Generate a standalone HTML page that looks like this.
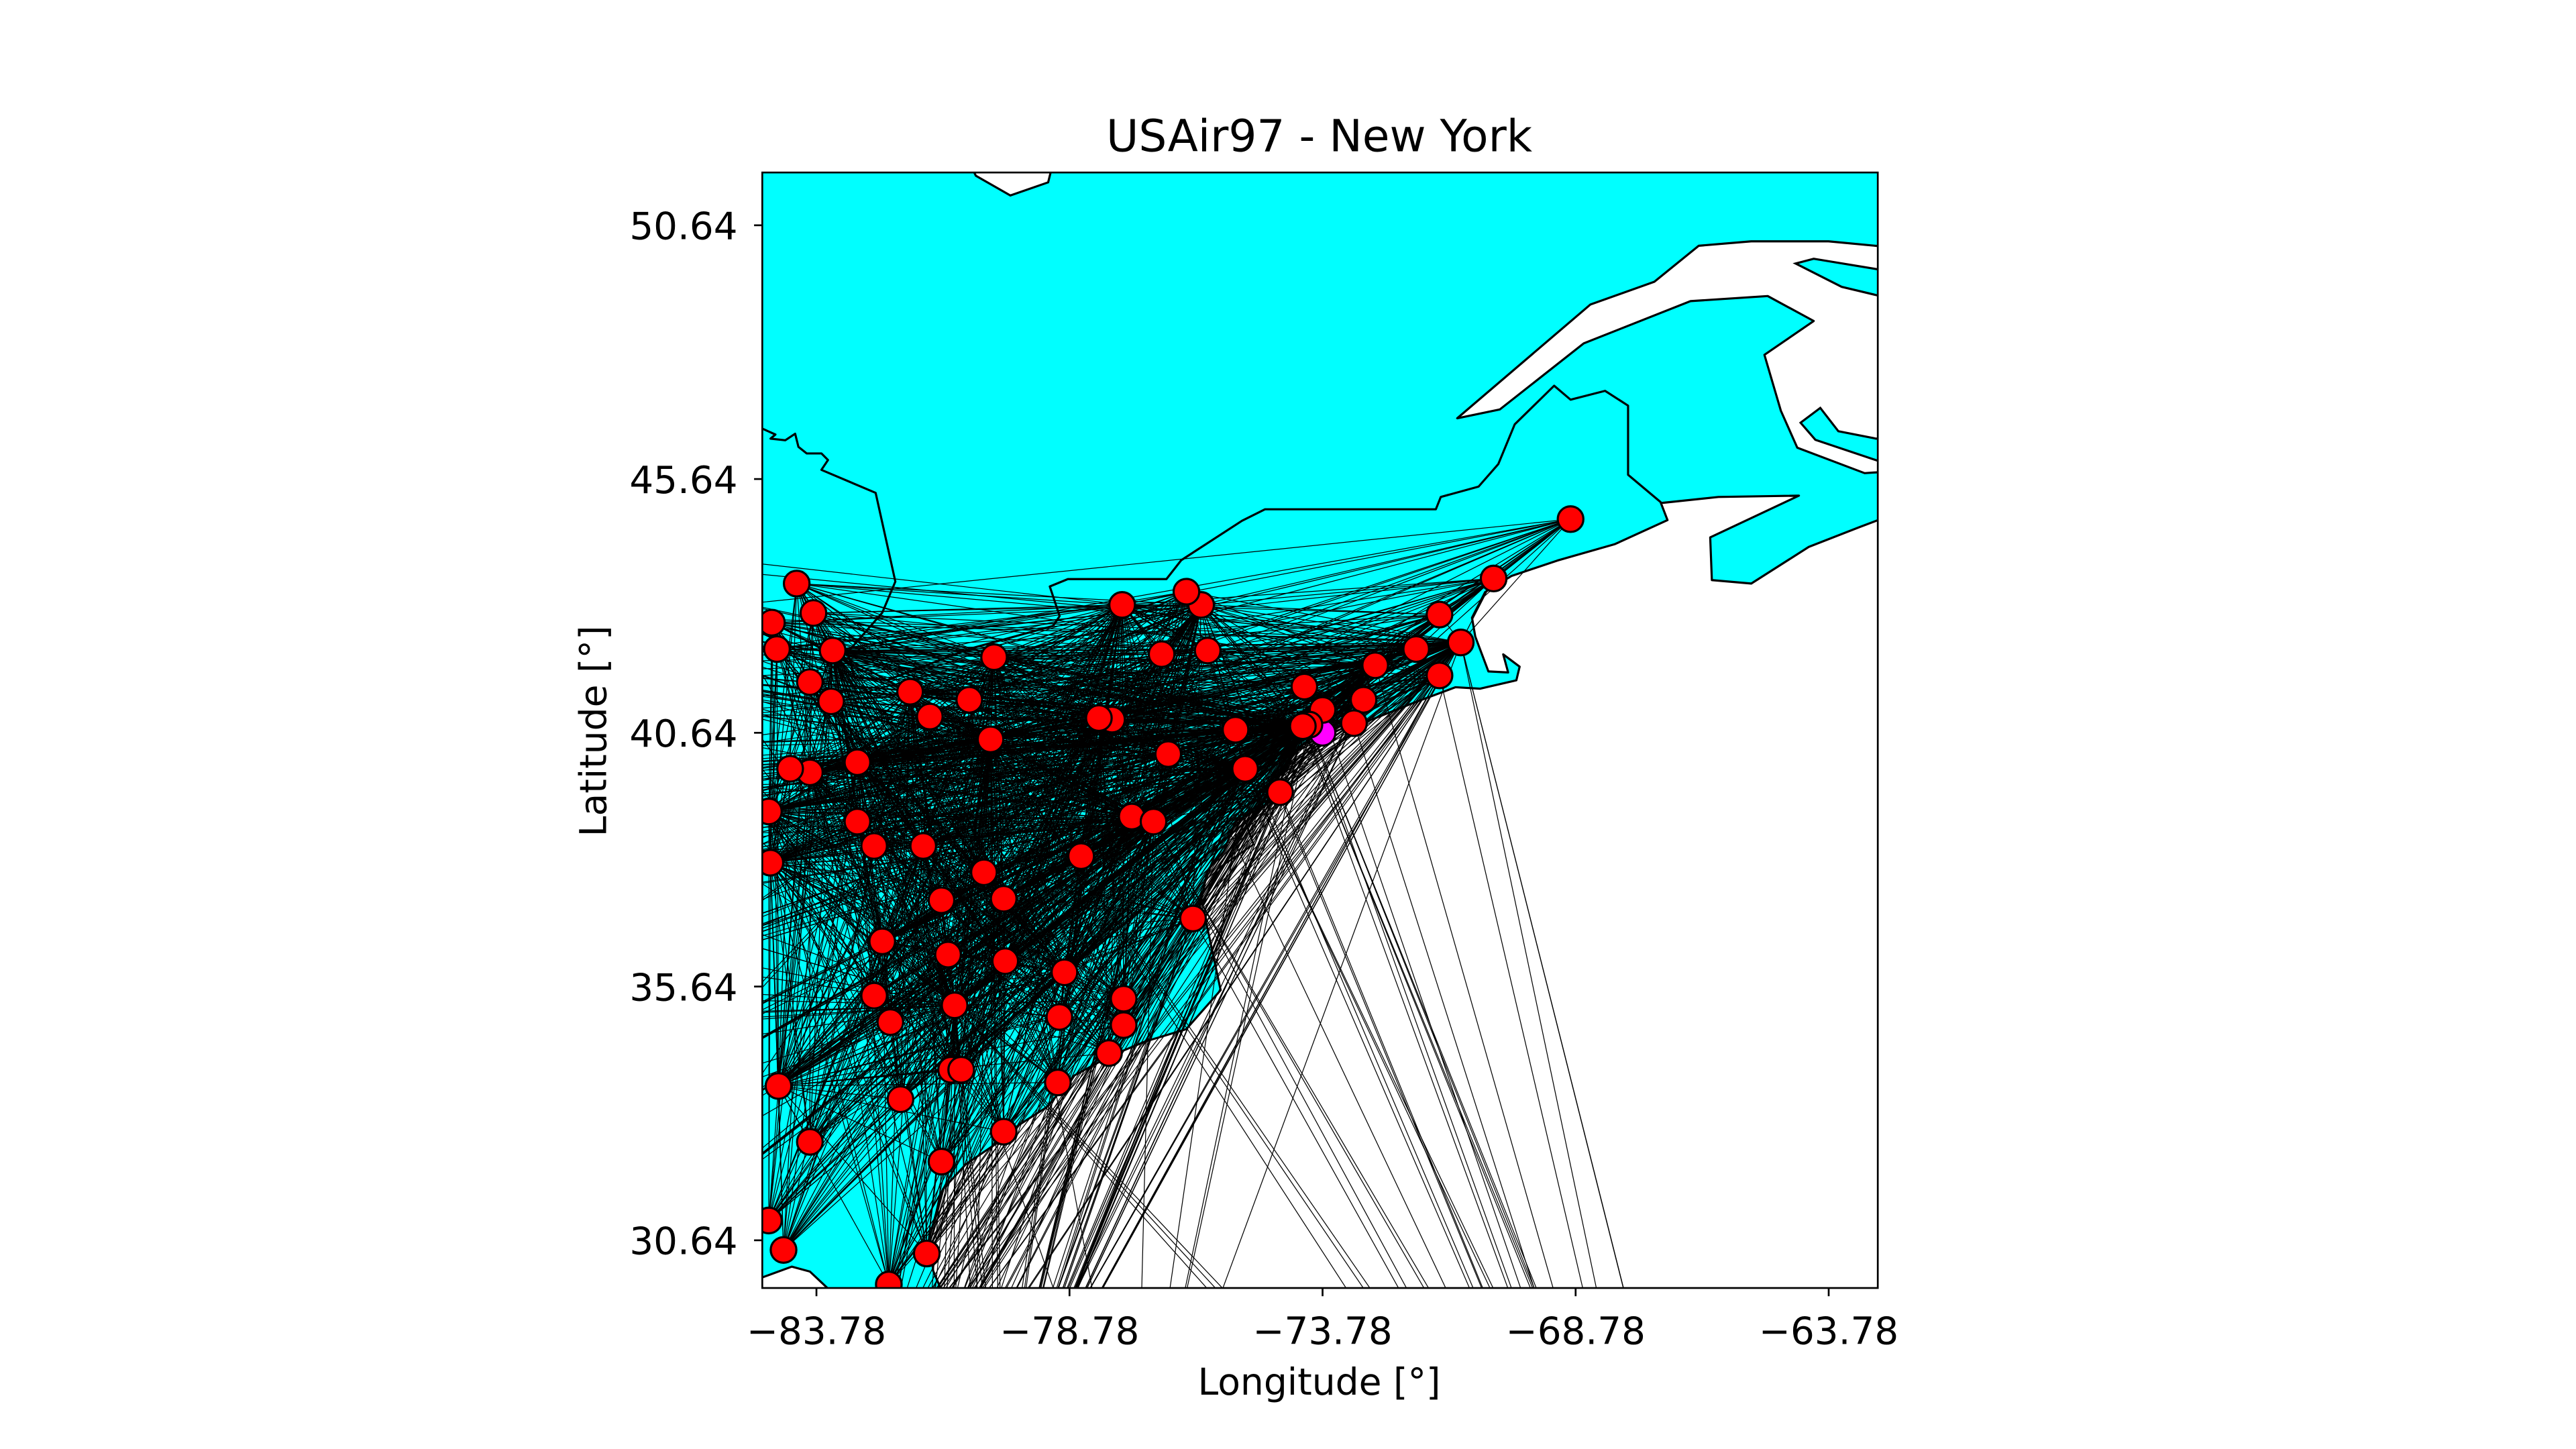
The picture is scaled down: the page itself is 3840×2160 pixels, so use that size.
<!DOCTYPE html>
<html><head><meta charset="utf-8"><title>USAir97 - New York</title>
<style>html,body{margin:0;padding:0;background:#fff;width:3840px;height:2160px;overflow:hidden}svg{display:block}text{font-family:"DejaVu Sans","Liberation Sans",sans-serif;fill:#000}</style>
</head><body>
<svg id="chart" width="3840" height="2160" viewBox="0 0 1568 882" xmlns="http://www.w3.org/2000/svg">
<defs><clipPath id="plotclip"><rect x="464" y="105" width="679" height="679"/></clipPath></defs>
<text x="803" y="92" font-size="27" text-anchor="middle">USAir97 - New York</text>
<g clip-path="url(#plotclip)">
<rect x="464" y="105" width="679" height="679" fill="#00ffff"/>
<polygon points="592,103 640,103 638,111 615,119 594,107" fill="#fff" stroke="#000" stroke-width="1.3"/>
<polygon points="1150,150.4 1113,146.9 1066,146.9 1034,149.6 1007,171.5 968,185.4 887,254.6 913,249.2 964,209 1029,183.3 1076,180.2 1104,195.4 1074,216 1084,250 1094,272.5 1135,288 1150,287" fill="#fff" stroke="#000" stroke-width="1.3" stroke-linejoin="round"/>
<polygon points="1093,160.4 1104,157.5 1147,164.6 1147,180.8 1121,174.6" fill="#00ffff" stroke="#000" stroke-width="1.3"/>
<polygon points="1096,257.3 1108,248.3 1119,262.5 1142,267 1150,266.6 1150,280.2 1144,280.8 1105,267.7" fill="#00ffff" stroke="#000" stroke-width="1.3"/>
<polygon points="1150,314 1132,320.8 1101,332.9 1066,355.2 1042,353.1 1041,327.1 1095,301.7 1046,302.5 1011,306.2 1015,316.6 983,331.2 948,341.2 920,350.6 904,360.4 896,376 898,387.5 906,408.7 918,409.3 915,398.3 925,405.8 923,414.1 901,419.2 886,418.3 860,428 835,438 812,443 800,447 790,456 780,470 770,490 752,500 745,518 735,530 730,553 734,560.5 743,602.7 722,626.5 697,634 676,642.7 654,654.6 637,674 620,684.9 607,695.7 588,708.6 574,723.8 566,752 568,773.5 575,790 1150,790" fill="#fff" stroke="#000" stroke-width="1.3" stroke-linejoin="round"/>
<polygon points="460,779 482,771 493,774 510,790 460,790" fill="#fff" stroke="#000" stroke-width="1.3"/>
<polyline points="462,260 472,264.5 469,267 478,268 484,264 486,272 491,276 500,276 504,280 500,286 533,300 545,354 537,373 516,397 520,412 540,414 590,395 641,381 645,375 639,357 650,352.5 710,352.5 719,341 756,317 770,310 874,310 877,302.5 900,296.2 912,282.5 922,258.3 946,234.8 956,243.3 977,237.9 991,246.9 991,289 1011,305.8" fill="none" stroke="#000" stroke-width="1.3" stroke-linejoin="round"/>
<polyline points="753,486 763,514 741,529 732,551" fill="none" stroke="#000" stroke-width="1.1"/>
<g id="edges"></g>
<g id="nodes"></g>
</g>
<rect x="464" y="105" width="679" height="679" fill="none" stroke="#000" stroke-width="1.1"/>
<g id="xticks"></g>
<g id="yticks"></g>
<text x="803" y="849" font-size="22.5" text-anchor="middle">Longitude [°]</text>
<text x="369" y="445" font-size="22.5" text-anchor="middle" transform="rotate(-90 369 445)">Latitude [°]</text>
</svg>
<script>
const xTicks = [-83.78, -78.78, -73.78, -68.78, -63.78];
const yTicks = [30.64, 35.64, 40.64, 45.64, 50.64];
const center = [-73.78, 40.64];
const airportNames = ["BGR","PWM","MHT","BOS","ORH","PVD","BDL","BDR","ISP","HPN","SWF","LGA","EWR","ABE","PHL","ACY","MDT","IPT","UNV","BGM","ITH","SYR","ART","ROC","ERI","PIT","YNG","CAK","CLE","TOL","FNT","DTW","MBS","TVC","LAN","JXN","CMH","DAY","DYX","CVG","HTS","PKB","CRW","LWB","ROA","BLF","LEX","TRI","HKY","GSO","AVL","GSP","CLT","AGS","CAE","CAX","ATL","MCN","SAV","CHS","MYR","FLO","RDU","ILM","EWN","PGV","CHO","IAD","DCA","ORF","ABY","TLH","JAX","GNV"];
const airportLon = [-68.88,-70.40,-71.47,-71.05,-71.93,-71.47,-72.74,-72.97,-73.16,-73.78,-74.14,-74.04,-74.17,-75.50,-75.31,-74.62,-76.83,-77.94,-78.20,-76.05,-76.96,-76.18,-76.47,-77.74,-80.27,-80.34,-80.76,-81.54,-81.93,-83.49,-83.91,-83.46,-83.84,-84.17,-84.66,-84.56,-82.97,-83.91,-84.30,-84.72,-82.97,-82.64,-81.67,-80.47,-80.08,-81.31,-84.69,-82.48,-81.18,-80.05,-82.64,-82.32,-81.05,-82.12,-81.12,-80.92,-84.53,-83.91,-81.31,-80.08,-79.01,-78.98,-78.88,-78.00,-77.71,-77.71,-78.55,-77.55,-77.12,-76.34,-84.72,-84.43,-81.60,-82.35];
const airportLat = [44.85,43.68,42.97,42.42,42.29,41.77,41.97,41.29,40.83,41.09,41.55,40.80,40.77,40.70,39.93,39.47,40.22,40.90,40.93,42.26,42.19,43.16,43.42,43.16,42.13,40.51,41.29,40.96,41.45,41.26,41.64,42.26,43.00,43.58,42.81,42.29,40.06,39.86,39.93,39.09,38.89,38.41,38.41,37.89,37.37,37.34,38.08,36.53,36.27,36.14,35.46,34.94,35.27,33.42,34.00,34.00,33.68,32.58,32.19,32.78,33.75,35.04,35.92,34.33,34.88,35.40,38.21,38.99,38.89,36.98,31.03,30.45,30.38,29.77];
const farNames = ["ORD","MDW","IND","SDF","STL","BNA","BHM","MEM","MSY","IAH","DFW","DEN","LAX","SFO","PHX","LAS","MKE","MSP","MCI","SAN","SEA","FWA","SBN","GRR","PNS","TPA","MCO","MIA","FLL","PBI","RSW","SRQ","MLB","DAB","SJU","STT","STX","NAS"];
const farLon = [-87.9,-87.75,-86.3,-85.7,-90.4,-86.7,-86.75,-90.0,-90.26,-95.3,-97.0,-104.7,-118.4,-122.4,-112.0,-115.2,-87.9,-93.2,-94.7,-117.2,-122.3,-85.2,-86.3,-85.5,-87.2,-82.53,-81.3,-80.29,-80.15,-80.1,-81.75,-82.55,-80.65,-81.06,-66.0,-64.97,-64.8,-77.47];
const farLat = [41.98,41.79,39.7,38.2,38.7,36.1,33.56,35.0,29.99,29.98,32.9,39.86,33.9,37.6,33.4,36.1,42.9,44.9,39.3,32.7,47.4,41.0,41.7,42.9,30.5,27.98,28.43,25.79,26.07,26.68,26.5,27.4,28.1,29.18,18.44,18.34,17.7,25.04];
const hubs = ["LGA","PIT","CLT","PHL","DCA","BOS","EWR"];
const regionalHubs = ["CLE","CMH","DTW","CVG","GSO","RDU","ROA","ATL","IAD","SYR","ROC","BDL","CRW","TRI","LEX","DAY","UNV","ERI"];
const floridaSources = ["BOS","PVD","BDL","HPN","ISP","ACY","ABE","ORF","ROC","SYR"];
const floridaDests = ["TPA","MCO","MIA","FLL","PBI","SJU"];
const extraEdges = [["BGR","PIT"],["BGR","BOS"],["BGR","LGA"],["PWM","PIT"],["TVC","DTW"],["ROC","ORD"],["SYR","ORD"],["BGR","MKE"],["MBS","DTW"],["ATL","PIT"],["CVG","PIT"],["JAX","CLT"],["SAV","CLT"],["GNV","CLT"],["TLH","CLT"],["ABY","ATL"],["CHS","PIT"],["MYR","PIT"],["ILM","PIT"]];

const X0=464, X1=1143, Y0=105, Y1=784;
const lonMin=-84.85, lonMax=-62.81, latMin=29.70, latMax=51.68;
function xScale(lon){ return X0 + (lon - lonMin) / (lonMax - lonMin) * (X1 - X0); }
function yScale(lat){ return Y1 - (lat - latMin) / (latMax - latMin) * (Y1 - Y0); }
const NS="http://www.w3.org/2000/svg";
const pos = {};
airportNames.forEach((n,i)=>{ pos[n]=[airportLon[i],airportLat[i]]; });
farNames.forEach((n,i)=>{ pos[n]=[farLon[i],farLat[i]]; });
const allNames = airportNames.concat(farNames);
const edgeG = document.getElementById('edges');
const seen = {};
function addEdge(a,b){
  if(!pos[a]||!pos[b]||a===b) return;
  const key = a<b ? a+'-'+b : b+'-'+a;
  if(seen[key]) return; seen[key]=1;
  const l = document.createElementNS(NS,'line');
  l.setAttribute('x1', xScale(pos[a][0])); l.setAttribute('y1', yScale(pos[a][1]));
  l.setAttribute('x2', xScale(pos[b][0])); l.setAttribute('y2', yScale(pos[b][1]));
  l.setAttribute('stroke','#000'); l.setAttribute('stroke-width','0.5');
  
  
  edgeG.appendChild(l);
}
hubs.forEach(h=>allNames.forEach(n=>addEdge(h,n)));
regionalHubs.forEach(h=>airportNames.forEach(n=>addEdge(h,n)));
floridaSources.forEach(s=>floridaDests.forEach(d=>addEdge(s,d)));
extraEdges.forEach(e=>addEdge(e[0],e[1]));

const nodeG = document.getElementById('nodes');
const c0 = document.createElementNS(NS,'circle');
c0.setAttribute('cx', xScale(center[0])); c0.setAttribute('cy', yScale(center[1]));
c0.setAttribute('r','7.8'); c0.setAttribute('fill','#ff00ff'); c0.setAttribute('stroke','#000'); c0.setAttribute('stroke-width','1.3');


nodeG.appendChild(c0);
airportNames.forEach((n,i)=>{
  const c = document.createElementNS(NS,'circle');
  c.setAttribute('cx', xScale(airportLon[i])); c.setAttribute('cy', yScale(airportLat[i]));
  c.setAttribute('r','7.8'); c.setAttribute('fill','#ff0000'); c.setAttribute('stroke','#000'); c.setAttribute('stroke-width','1.3');
  
  
  nodeG.appendChild(c);
});

const xg = document.getElementById('xticks');
xTicks.forEach(v=>{
  const x = xScale(v);
  const t = document.createElementNS(NS,'line');
  t.setAttribute('x1',x); t.setAttribute('x2',x); t.setAttribute('y1',Y1); t.setAttribute('y2',Y1+5);
  t.setAttribute('stroke','#000'); t.setAttribute('stroke-width','1.1');
  
  
  xg.appendChild(t);
  const tx = document.createElementNS(NS,'text');
  tx.setAttribute('x',x); tx.setAttribute('y',Y1+34); tx.setAttribute('font-size','23'); tx.setAttribute('text-anchor','middle');
  tx.textContent = (v<0?'\u2212':'') + Math.abs(v).toFixed(2);
  
  
  xg.appendChild(tx);
});
const yg = document.getElementById('yticks');
yTicks.forEach(v=>{
  const y = yScale(v);
  const t = document.createElementNS(NS,'line');
  t.setAttribute('x1',X0-5); t.setAttribute('x2',X0); t.setAttribute('y1',y); t.setAttribute('y2',y);
  t.setAttribute('stroke','#000'); t.setAttribute('stroke-width','1.1');
  
  
  yg.appendChild(t);
  const tx = document.createElementNS(NS,'text');
  tx.setAttribute('x',X0-15); tx.setAttribute('y',y+8.5); tx.setAttribute('font-size','23'); tx.setAttribute('text-anchor','end');
  tx.textContent = v.toFixed(2);
  
  
  yg.appendChild(tx);
});
</script>
</body></html>
